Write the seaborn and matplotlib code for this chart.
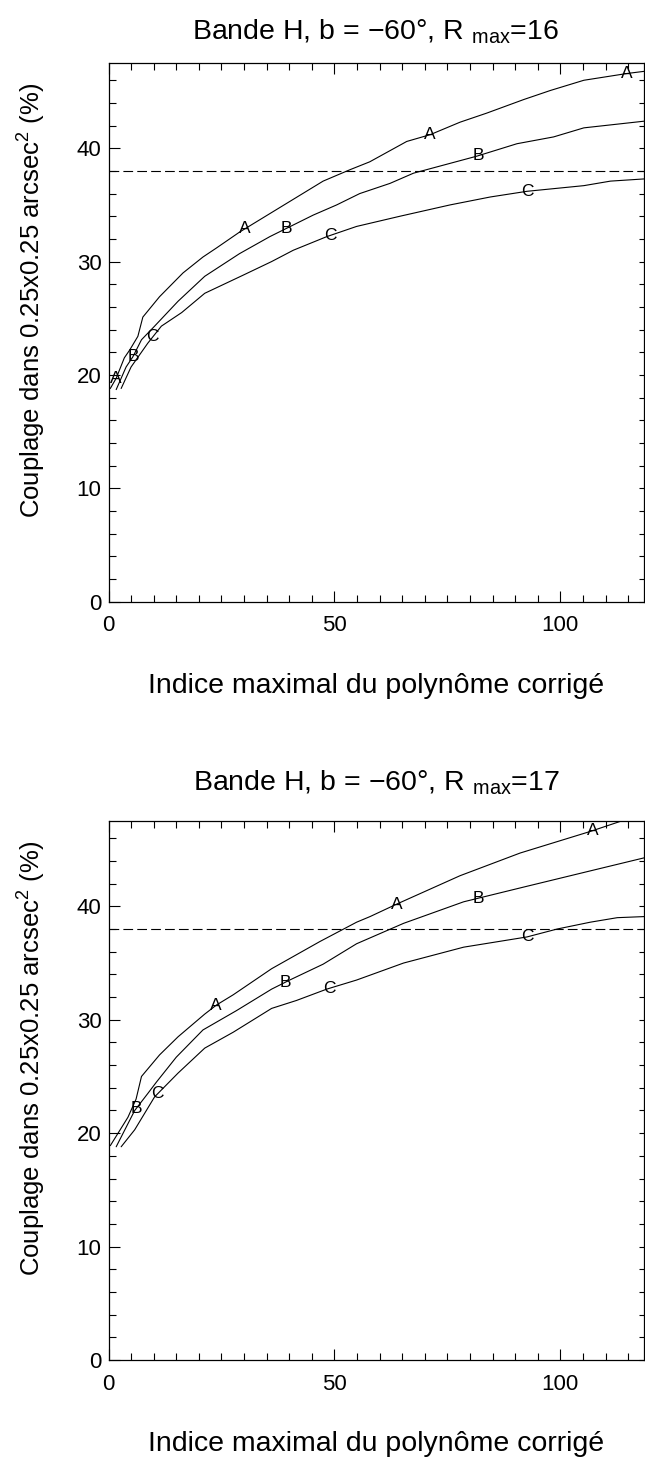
import numpy as np
import pandas as pd
import seaborn as sns
import matplotlib
import matplotlib.pyplot as plt
from matplotlib.ticker import MultipleLocator

sns.set_style("ticks")
matplotlib.rcParams["font.family"] = ["Liberation Sans", "DejaVu Sans"]
matplotlib.rcParams["mathtext.fontset"] = "custom"
matplotlib.rcParams["mathtext.rm"] = "Liberation Sans"
matplotlib.rcParams["lines.scale_dashes"] = False
matplotlib.rcParams["text.color"] = "black"
matplotlib.rcParams["axes.labelcolor"] = "black"

# data ########################################################################

rmax = [16, 17]
threshold = 38.0

top_A_x = [0.4, 1.7, 3.5, 4.7, 6.5, 7.6, 11.3, 16.5, 20.9, 23.9, 29.0, 40.1,
           47.5, 53.4, 57.8, 66.0, 71.2, 77.8, 83.7, 91.9, 97.8, 105.2, 114.8, 118.8]
top_A_y = [18.8, 19.7, 21.5, 22.2, 23.4, 25.1, 26.9, 29.0, 30.4, 31.2, 32.6, 35.3,
           37.1, 38.1, 38.8, 40.6, 41.2, 42.3, 43.1, 44.3, 45.1, 46.0, 46.6, 46.8]
top_B_x = [1.7, 3.9, 5.4, 7.3, 10.2, 15.4, 21.3, 29.0, 35.7, 45.3, 50.5, 55.6,
           62.3, 67.5, 81.5, 90.4, 98.5, 105.2, 118.8]
top_B_y = [18.7, 20.7, 21.6, 23.1, 24.3, 26.5, 28.7, 30.7, 32.2, 34.1, 35.0, 36.0,
           36.9, 37.8, 39.3, 40.4, 41.0, 41.8, 42.4]
top_C_x = [2.8, 5.0, 8.7, 11.7, 16.2, 21.3, 29.8, 36.1, 40.9, 48.3, 54.9, 64.5,
           75.6, 84.5, 92.6, 105.2, 111.1, 118.8]
top_C_y = [18.8, 20.7, 22.8, 24.3, 25.5, 27.2, 28.8, 30.0, 31.0, 32.2, 33.1, 34.0,
           35.0, 35.7, 36.2, 36.7, 37.1, 37.3]

bot_A_x = [0.4, 4.3, 6.1, 7.3, 11.3, 15.4, 21.3, 23.9, 27.6, 36.1, 46.8, 54.9,
           57.9, 63.8, 77.8, 91.1, 106.6, 112.6, 118.5]
bot_A_y = [18.9, 21.4, 23.0, 25.0, 26.9, 28.5, 30.5, 31.3, 32.2, 34.5, 36.9, 38.6,
           39.1, 40.2, 42.7, 44.7, 46.6, 47.4, 48.2]
bot_B_x = [1.7, 5.8, 8.7, 10.6, 15.0, 20.9, 28.3, 36.1, 40.1, 47.5, 54.9, 65.3,
           78.6, 91.9, 107.4, 118.8]
bot_B_y = [18.8, 22.0, 23.5, 24.5, 26.7, 29.1, 30.8, 32.7, 33.5, 34.9, 36.7, 38.5,
           40.4, 41.7, 43.2, 44.3]
bot_C_x = [2.8, 5.8, 10.2, 15.4, 21.3, 27.6, 36.1, 41.6, 48.3, 54.9, 65.3, 78.6,
           92.6, 99.3, 106.6, 112.6, 118.8]
bot_C_y = [18.8, 20.3, 23.2, 25.3, 27.5, 28.9, 31.0, 31.7, 32.7, 33.5, 35.0, 36.4,
           37.3, 38.0, 38.6, 39.0, 39.1]

# where the curve letters sit along x
top_labels = {"A": [1.7, 30.2, 71.0, 114.6], "B": [5.4, 39.4, 81.8], "C": [9.8, 49.0, 92.6]}
bot_labels = {"A": [23.8, 63.8, 107.2], "B": [6.1, 39.2, 81.9], "C": [10.9, 48.8, 92.6]}

panels = [
    {"A": (top_A_x, top_A_y), "B": (top_B_x, top_B_y), "C": (top_C_x, top_C_y)},
    {"A": (bot_A_x, bot_A_y), "B": (bot_B_x, bot_B_y), "C": (bot_C_x, bot_C_y)},
]
labels = [top_labels, bot_labels]

# figure ######################################################################

W, H = 645, 1461
fig = plt.figure(figsize=(W / 100, H / 100), dpi=100)

# axes boxes in pixels: left, right, top, bottom
boxes = [(108.5, 643.5, 62.7, 601.5), (108.5, 643.5, 820.7, 1360.0)]
title_base = [39, 790]
xlabel_base = [693, 1451]
ylabel_center = [300, 1058]

for i, (curves, labs) in enumerate(zip(panels, labels)):
    l, r, t, b = boxes[i]
    ax = fig.add_axes([l / W, 1 - b / H, (r - l) / W, (b - t) / H])

    df = pd.concat([
        pd.DataFrame({"x": cx, "y": cy, "curve": name})
        for name, (cx, cy) in curves.items()
    ])
    sns.lineplot(
        data=df, x="x", y="y", hue="curve", palette=["black"] * 3,
        sort=False, estimator=None, legend=False, linewidth=0.8, ax=ax,
    )
    ax.axhline(threshold, color="black", linewidth=0.8, linestyle=(0, (7, 3)))

    for name, xs in labs.items():
        cx, cy = curves[name]
        for xl in xs:
            ax.text(xl, np.interp(xl, cx, cy), name, fontsize=12.5,
                    ha="center", va="center", color="black")

    ax.set_xlim(0, 118.4)
    ax.set_ylim(0, 47.55)
    ax.xaxis.set_major_locator(MultipleLocator(50))
    ax.xaxis.set_minor_locator(MultipleLocator(5))
    ax.yaxis.set_major_locator(MultipleLocator(10))
    ax.yaxis.set_minor_locator(MultipleLocator(2))
    ax.tick_params(which="both", direction="in", top=True, right=False,
                   width=0.8, colors="black", labelsize=16)
    ax.tick_params(which="major", length=8)
    ax.tick_params(which="minor", length=5)
    ax.tick_params(axis="x", pad=10)
    ax.tick_params(axis="y", pad=5)
    for sp in ax.spines.values():
        sp.set_visible(True)
        sp.set_linewidth(0.9)
        sp.set_color("black")

    # right-hand ticks are shorter in the original
    sec = ax.secondary_yaxis("right")
    sec.yaxis.set_major_locator(MultipleLocator(10))
    sec.yaxis.set_minor_locator(MultipleLocator(2))
    sec.tick_params(which="both", direction="in", length=3.5, width=0.8,
                    colors="black", labelright=False)
    sec.spines["right"].set_visible(False)

    ax.set_xlabel("")
    ax.set_ylabel("")

    cx_fig = (l + r) / 2 / W
    fig.text(cx_fig, 1 - title_base[i] / H,
             "Bande H, b = \u221260\u00b0, R $_{\\mathrm{max}}$=" + str(rmax[i]),
             fontsize=20.5, ha="center", va="baseline", color="black")
    fig.text(cx_fig, 1 - xlabel_base[i] / H,
             "Indice maximal du polyn\u00f4me corrig\u00e9",
             fontsize=20.5, ha="center", va="baseline", color="black")
    fig.text(31 / W, 1 - ylabel_center[i] / H,
             "Couplage dans 0.25x0.25 arcsec$^{\\mathrm{2}}$ (%)",
             fontsize=18.5, rotation=90, ha="center", va="center", color="black")

fig.savefig("out.png", dpi=100)
